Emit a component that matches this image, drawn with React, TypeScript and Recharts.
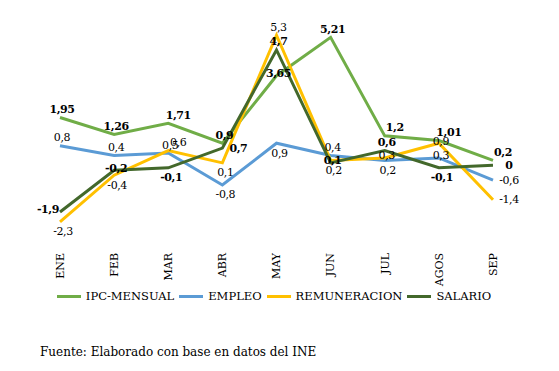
import { LineChart, Line, XAxis, YAxis, Legend, LabelList } from 'recharts';

const months = ['ENE', 'FEB', 'MAR', 'ABR', 'MAY', 'JUN', 'JUL', 'AGOS', 'SEP'];
const ipcMensual = [1.95, 1.26, 1.71, 0.9, 3.65, 5.21, 1.2, 1.01, 0.2];
const empleo = [0.8, 0.4, 0.5, -0.8, 0.9, 0.4, 0.2, 0.3, -0.6];
const remuneracion = [-2.3, -0.4, 0.6, 0.1, 5.3, 0.2, 0.3, 0.9, -1.4];
const salario = [-1.9, -0.2, -0.1, 0.7, 4.7, 0.1, 0.6, -0.1, 0];

const data = months.map((m, i) => ({
  month: m,
  ipc: ipcMensual[i],
  empleo: empleo[i],
  remuneracion: remuneracion[i],
  salario: salario[i],
}));

const series = [
  { key: 'ipc', name: 'IPC-MENSUAL', color: '#70AD47', bold: true },
  { key: 'empleo', name: 'EMPLEO', color: '#5B9BD5', bold: false },
  { key: 'remuneracion', name: 'REMUNERACION', color: '#FFC000', bold: false },
  { key: 'salario', name: 'SALARIO', color: '#43682B', bold: true },
];

// where each data label sits relative to its point
const placement: Record<string, string[]> = {
  ipc: ['top', 'top', 'topRight', 'top', 'center', 'top', 'topRight', 'topRight', 'topRight'],
  empleo: ['top', 'top', 'top', 'bottom', 'bottom', 'top', 'bottom', 'center', 'right'],
  remuneracion: ['bottom', 'bottom', 'topRight', 'bottom', 'top', 'bottom', 'center', 'center', 'right'],
  salario: ['left', 'center', 'bottom', 'right', 'top', 'center', 'top', 'bottom', 'right'],
};

const offsets: Record<string, [number, number]> = {
  top: [2, -8],
  bottom: [3, 10],
  left: [-12, -2],
  right: [16, 0],
  center: [2, -2],
  topRight: [10, -8],
};

const serif = 'DejaVu Serif';

const makeLabel = (key: string, bold: boolean) => (props: any) => {
  const { x, y, value, index } = props;
  const [dx, dy] = offsets[placement[key][index]];
  return (
    <text
      x={x + dx}
      y={y + dy}
      textAnchor="middle"
      dominantBaseline="central"
      style={{ fontFamily: serif, fontSize: 11, fontWeight: bold ? 'bold' : 'normal', letterSpacing: -0.4 }}
      fill="#000"
    >
      {String(value).replace('.', ',')}
    </text>
  );
};

const MonthTick = (props: any) => {
  const { x, y, payload } = props;
  return (
    <text
      transform={`translate(${x},${y + 6}) rotate(-90)`}
      textAnchor="end"
      dy="0.35em"
      style={{ fontFamily: serif, fontSize: 11 }}
      fill="#000"
    >
      {payload.value}
    </text>
  );
};

const LegendContent = () => (
  <div style={{ display: 'flex', justifyContent: 'center', fontFamily: serif, fontSize: 11.5, color: '#000' }}>
    {series.map((s) => (
      <div key={s.key} style={{ display: 'flex', alignItems: 'center', marginRight: 5 }}>
        <span style={{ width: 24, height: 3, background: s.color, display: 'inline-block', marginRight: 5 }} />
        <span>{s.name}</span>
      </div>
    ))}
  </div>
);

export default function App() {
  return (
    <div style={{ width: 543, background: '#fff' }}>
      <LineChart width={543} height={313} data={data} margin={{ top: 10, right: 31, left: 25, bottom: 0 }}>
        <XAxis
          dataKey="month"
          axisLine={false}
          tickLine={false}
          interval={0}
          height={50}
          padding={{ left: 27, right: 27 }}
          tick={<MonthTick />}
        />
        <YAxis hide domain={[-3, 6]} />
        <Legend verticalAlign="bottom" height={32} content={<LegendContent />} />
        {series.map((s) => (
          <Line
            key={s.key}
            dataKey={s.key}
            name={s.name}
            stroke={s.color}
            strokeWidth={3}
            dot={false}
            activeDot={false}
            isAnimationActive={false}
          >
            <LabelList dataKey={s.key} content={makeLabel(s.key, s.bold)} />
          </Line>
        ))}
      </LineChart>
      <div style={{ fontFamily: serif, fontSize: 12, color: '#000', marginTop: 24, marginLeft: 32 }}>
        Fuente: Elaborado con base en datos del INE
      </div>
    </div>
  );
}
